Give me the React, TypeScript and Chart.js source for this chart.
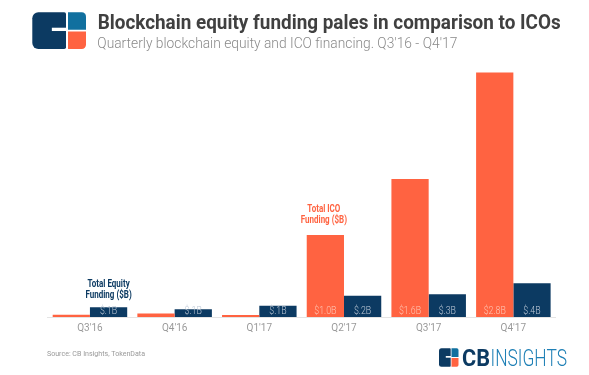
import React, { useEffect, useRef } from "react";
import { Chart, registerables } from "chart.js";

Chart.register(...registerables);

const quarters = ["Q3'16", "Q4'16", "Q1'17", "Q2'17", "Q3'17", "Q4'17"];
const icoFunding = [0.025, 0.04, 0.022, 0.94, 1.58, 2.8];
const equityFunding = [0.111, 0.088, 0.13, 0.244, 0.26, 0.386];
const icoLabels = ["", "", "", "$1.0B", "$1.6B", "$2.8B"];
const equityLabels = ["$.1B", "$.1B", "$.1B", "$.2B", "$.3B", "$.4B"];

const TITLE = "Blockchain equity funding pales in comparison to ICOs";
const SUBTITLE = "Quarterly blockchain equity and ICO financing. Q3'16 - Q4'17";
const SOURCE = "Source: CB Insights, TokenData";

const ORANGE = "#FF6341";
const NAVY = "#0C3A62";
const BLUE = "#11709F";

function fitText(
  ctx: CanvasRenderingContext2D,
  text: string,
  x: number,
  y: number,
  font: string,
  color: string,
  opts: { width?: number; squeeze?: number; align?: CanvasTextAlign }
) {
  ctx.save();
  ctx.font = font;
  const w = ctx.measureText(text).width;
  const s = opts.width ? opts.width / w : opts.squeeze ?? 1;
  ctx.translate(x, y);
  ctx.scale(s, 1);
  ctx.textAlign = opts.align ?? "left";
  ctx.textBaseline = "alphabetic";
  ctx.fillStyle = color;
  ctx.fillText(text, 0, 0);
  ctx.restore();
}

function drawLogo(
  ctx: CanvasRenderingContext2D,
  x: number,
  y: number,
  h: number,
  navyW: number,
  gap: number,
  sqW: number,
  r: number
) {
  ctx.save();
  ctx.fillStyle = NAVY;
  ctx.beginPath();
  ctx.roundRect(x, y, navyW, h, [r, r * 0.3, r * 0.3, r]);
  ctx.fill();
  ctx.fillStyle = "#ffffff";
  ctx.fillRect(x + navyW * 0.58, y + h * 0.42, navyW * 0.42 + gap, h * 0.09);
  const sx = x + navyW + gap;
  const sh = h * 0.475;
  ctx.fillStyle = BLUE;
  ctx.beginPath();
  ctx.roundRect(sx, y, sqW, sh, [0, r * 0.7, 0, 0]);
  ctx.fill();
  ctx.fillStyle = ORANGE;
  ctx.beginPath();
  ctx.roundRect(sx, y + h - sh, sqW, sh, [0, 0, r * 0.7, 0]);
  ctx.fill();
  ctx.restore();
}

const decorPlugin = {
  id: "decor",
  afterDraw(chart: any) {
    const ctx: CanvasRenderingContext2D = chart.ctx;
    // header
    drawLogo(ctx, 32.3, 12.3, 36.7, 33.7, 2, 18, 6);
    fitText(ctx, TITLE, 97.7, 29, "bold 20.5px Roboto", "#404040", { width: 463 });
    fitText(ctx, SUBTITLE, 97.3, 48.3, "300 14px Roboto", "#8a8a8a", { width: 360 });

    // value labels inside bars
    const yScale = chart.scales.y;
    const base = yScale.getPixelForValue(0);
    const sets = [
      { idx: 0, labels: icoLabels, color: "#FFC6B4" },
      { idx: 1, labels: equityLabels, color: "#BCC8D6" },
    ];
    sets.forEach((s) => {
      const meta = chart.getDatasetMeta(s.idx);
      meta.data.forEach((bar: any, i: number) => {
        const t = s.labels[i];
        if (!t) return;
        fitText(ctx, t, bar.x, base - 3.3, "300 10px Roboto", s.color, {
          squeeze: 0.88,
          align: "center",
        });
      });
    });

    // annotations
    const eq = chart.getDatasetMeta(1).data[0];
    fitText(ctx, "Total Equity", eq.x, eq.y - 20.6, "bold 10px Roboto", NAVY, { squeeze: 0.8, align: "center" });
    fitText(ctx, "Funding ($B)", eq.x, eq.y - 9.6, "bold 10px Roboto", NAVY, { squeeze: 0.8, align: "center" });
    const ico = chart.getDatasetMeta(0).data[3];
    fitText(ctx, "Total ICO", ico.x - 1.5, ico.y - 22.5, "bold 10px Roboto", ORANGE, { squeeze: 0.8, align: "center" });
    fitText(ctx, "Funding ($B)", ico.x - 1.5, ico.y - 11.5, "bold 10px Roboto", ORANGE, { squeeze: 0.8, align: "center" });

    // footer
    fitText(ctx, SOURCE, 47, 356, "8px Roboto", "#999999", { width: 98 });
    drawLogo(ctx, 439, 348.3, 18.4, 11.7, 0.8, 7, 2.5);
    fitText(ctx, "CB", 462, 366.3, "bold 24px Roboto", NAVY, { width: 28 });
    fitText(ctx, "INSIGHTS", 490.5, 366.3, "300 24px Roboto", "#1F80B6", { width: 76.5 });
  },
};

export default function App() {
  const ref = useRef<HTMLCanvasElement>(null);
  useEffect(() => {
    if (!ref.current) return;
    const chart = new Chart(ref.current, {
      type: "bar",
      data: {
        labels: quarters,
        datasets: [
          {
            label: "Total ICO Funding ($B)",
            data: icoFunding,
            backgroundColor: ORANGE,
            borderWidth: 0,
            categoryPercentage: 0.88,
            barPercentage: 1.0,
          },
          {
            label: "Total Equity Funding ($B)",
            data: equityFunding,
            backgroundColor: NAVY,
            borderWidth: 0,
            categoryPercentage: 0.88,
            barPercentage: 1.0,
          },
        ],
      },
      options: {
        responsive: false,
        animation: false,
        devicePixelRatio: 1,
        layout: { padding: { left: 47.6, right: 33.3, top: 55, bottom: 38 } },
        plugins: {
          legend: { display: false },
          tooltip: { enabled: false },
          title: { display: false },
        },
        scales: {
          x: {
            grid: { display: false, drawTicks: false },
            border: { display: true, color: "#e4e4e4", width: 1 },
            ticks: {
              color: "#9a9a9a",
              font: { family: "Roboto", size: 10 },
              padding: 5,
              maxRotation: 0,
            },
            afterFit: (s: any) => {
              s.height = 20;
            },
          },
          y: { display: false, min: 0, max: 3.0 },
        },
      },
      plugins: [decorPlugin],
    });
    return () => chart.destroy();
  }, []);
  return (
    <div style={{ position: "fixed", left: 0, top: 0, width: 589, height: 375, background: "#fff" }}>
      <canvas ref={ref} width={589} height={375} style={{ display: "block" }} />
    </div>
  );
}
